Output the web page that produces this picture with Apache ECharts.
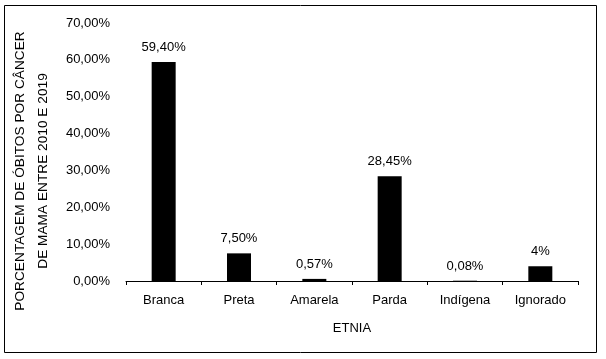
<!DOCTYPE html>
<html><head><meta charset="utf-8">
<script src="https://cdn.jsdelivr.net/npm/echarts@6/dist/echarts.min.js"></script>
<style>html,body{margin:0;padding:0;background:#fff}#c{width:606px;height:359px}</style>
</head><body><div id="c"></div>
<script>
const categories = ['Branca','Preta','Amarela','Parda','Indígena','Ignorado'];
const values = [59.40, 7.50, 0.57, 28.45, 0.08, 4];
const valueLabels = ['59,40%','7,50%','0,57%','28,45%','0,08%','4%'];
const yTicks = [0,10,20,30,40,50,60,70];
const yTitle = 'PORCENTAGEM DE ÓBITOS POR CÂNCER\nDE MAMA ENTRE 2010 E 2019';
const xTitle = 'ETNIA';
const font = 'Liberation Sans';
const chart = echarts.init(document.getElementById('c'), null, {renderer:'canvas'});
chart.setOption({
  animation:false,
  textStyle:{fontFamily:font},
  graphic:[{type:'rect',shape:{x:4.5,y:5.5,width:592,height:347},style:{fill:'none',stroke:'#000',lineWidth:1}}],
  grid:{left:126,right:28,top:23,bottom:78,containLabel:false,outerBoundsMode:'none'},
  xAxis:{type:'category',data:categories,name:xTitle,nameLocation:'middle',nameGap:41,
    nameTextStyle:{color:'#000',fontSize:13,fontFamily:font},
    axisLine:{lineStyle:{color:'#000',width:1}},
    axisTick:{show:true,length:4,lineStyle:{color:'#000'}},
    axisLabel:{color:'#000',fontSize:13,fontFamily:font,margin:13}},
  yAxis:{type:'value',min:yTicks[0],max:yTicks[yTicks.length-1],interval:10,name:yTitle,nameLocation:'middle',nameRotate:90,nameGap:57,
    nameTextStyle:{color:'#000',fontSize:13.7,fontFamily:font,lineHeight:23,padding:[0,38,0,0]},
    axisLine:{show:false},axisTick:{show:false},splitLine:{show:false},
    axisLabel:{color:'#000',fontSize:13,fontFamily:font,margin:16,formatter:v=>v.toFixed(2).replace('.',',')+'%'}},
  series:[{type:'bar',data:values,barWidth:24,itemStyle:{color:'#000'},
    label:{show:true,position:'top',distance:8,color:'#000',fontSize:13,fontFamily:font,
      formatter:p=>valueLabels[p.dataIndex]}}]
});
</script></body></html>
